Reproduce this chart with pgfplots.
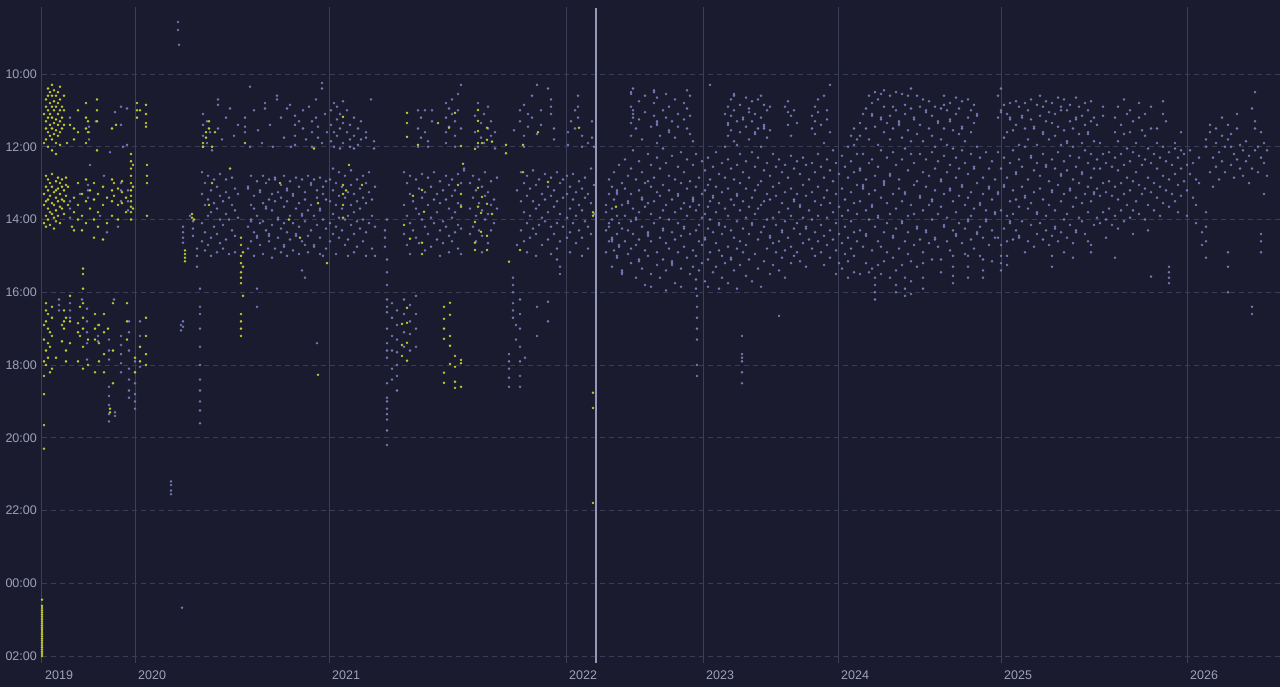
\documentclass[border=0pt]{standalone}
\usepackage{pgfplots}
\pgfplotsset{compat=1.18}
\usepackage{fontspec}
\setmainfont{Liberation Sans}
\definecolor{bg}{RGB}{26,27,46}
\definecolor{ylw}{RGB}{197,207,46}
\definecolor{prp}{RGB}{121,121,186}
\definecolor{gridc}{RGB}{58,59,85}
\definecolor{yearc}{RGB}{61,62,90}
\definecolor{brightc}{RGB}{150,150,185}
\definecolor{labc}{RGB}{159,162,184}
\begin{document}
\begin{tikzpicture}
\path[use as bounding box, fill=bg] (0,0) rectangle (1280pt,687pt);
\begin{axis}[
  at={(42pt,24pt)}, anchor=south west, scale only axis,
  width=1238pt, height=656pt,
  xmin=42, xmax=1280, ymin=8.16, ymax=26.19, y dir=reverse,
  clip=false,
  axis line style={draw=none},
  major tick length=0pt,
  xtick={42,135,329,566,703,838,1001,1187},
  xticklabels={2019,2020,2021,2022,2023,2024,2025,2026},
  ytick={10,12,14,16,18,20,22,24,26},
  yticklabels={10:00,12:00,14:00,16:00,18:00,20:00,22:00,00:00,02:00},
  xmajorgrids, ymajorgrids,
  x grid style={yearc, line width=1pt},
  y grid style={gridc, line width=0.8pt, dash pattern=on 5pt off 4pt},
  xticklabel style={anchor=north west, inner sep=0pt, xshift=3pt, yshift=-8pt, text=labc, font=\fontsize{12.5}{14}\selectfont},
  yticklabel style={anchor=east, inner sep=0pt, xshift=-5pt, text=labc, font=\fontsize{12.5}{14}\selectfont},
]
\addplot[brightc, line width=1.4pt, forget plot] coordinates {(596,8.18) (596,26.19)};
% purple series
\addplot[prp, only marks, mark=*, mark size=1.15pt, mark options={draw=prp, fill=prp, line width=0.2pt}] coordinates {
(70,11.2)(89,11.45)(89,11.6)(89,11.8)(96,11.3)(115,11.05)(121,10.9)(127,10.95)(121,11.4)(110,12.15)(123,12.0)(127,11.95)
(70,13.5)(70,13.7)(70,13.95)(80,13.3)(88,13.05)(88,13.2)(88,13.4)(90,12.5)(107,14.35)(121,13.0)(121,13.2)(121,13.5)(128,13.2)(128,13.5)(128,13.75)(118,14.2)(100,13.9)(104,12.8)
(59,16.2)(59,16.35)(59,16.5)(70,16.3)(70,16.5)(70,16.7)(82,16.2)(87,16.45)(87,16.8)(87,17.1)(87,17.4)(87,17.85)(98,16.9)(98,17.2)(98,17.35)(109,17.3)(109,17.6)(109,17.85)(121,17.2)(121,17.45)(121,17.7)(121,17.95)(121,18.2)(129,16.8)(129,17.1)(129,17.6)(129,18.1)(129,18.4)(129,18.7)(129,18.9)(135,17.9)(135,18.2)(135,18.5)(135,18.8)(135,19.0)(135,19.2)(140,16.8)(140,17.2)(140,17.5)(140,18.05)(109,18.6)(109,18.85)(109,19.1)(109,19.35)(109,19.55)(115,19.3)(115,19.4)(114,16.2)
(178,8.57)(178,8.79)(179,9.2)(171,21.2)(171,21.3)(171,21.45)(171,21.55)(182,24.67)(181,16.9)(181,17.05)
(183,14.2)(183,14.35)(183,14.5)(183,14.64)(183,16.8)(183,16.95)(190,13.9)(193,14.05)(193,14.25)(193,14.45)(197,14.8)(197,15.0)(197,15.3)
(200,15.9)(200,16.4)(200,16.6)(200,17.0)(200,17.5)(200,18.0)(200,18.4)(200,18.7)(200,19.0)(200,19.25)(200,19.6)
(203,11.1)(203,11.4)(203,11.7)(203,12.0)(207,11.3)(207,11.9)(210,11.6)(212,12.1)(218,10.7)(218,10.85)(218,11.5)(222,11.8)(226,11.2)(230,10.95)(234,11.7)(238,11.4)(245,11.2)(245,11.45)(245,11.6)(250,10.35)(250,12.0)(254,11.0)(258,11.55)(262,11.9)(265,10.8)(265,10.95)(270,11.4)(273,12.0)(277,10.6)(277,10.7)(281,11.2)(284,11.75)(287,10.95)(290,10.85)(291,12.0)(295,11.15)(295,11.4)(295,11.7)(295,11.95)(299,11.3)(303,11.0)(303,11.5)(306,11.8)(309,10.9)(312,11.3)(312,11.6)(312,12.0)(316,10.7)(316,11.2)(318,11.45)(318,11.75)(322,10.25)(322,10.4)(322,11.9)(325,11.1)(327,11.6)
(202,12.7)(202,13.3)(202,14.1)(202,14.6)(205,13.0)(205,13.6)(205,14.35)(205,14.85)(208,12.8)(208,13.45)(208,13.9)(208,14.7)(211,13.2)(211,13.8)(211,14.5)(211,15.0)(214,12.9)(214,13.55)(214,14.2)(217,13.1)(217,13.7)(217,14.4)(217,14.9)(220,12.75)(220,13.35)(220,14.0)(220,14.65)(223,13.5)(223,14.15)(223,14.8)(226,12.9)(226,13.25)(226,13.85)(226,14.55)(229,13.4)(229,14.0)(229,14.95)(232,12.85)(232,13.6)(232,14.3)(235,13.15)(235,13.75)(235,14.45)(235,14.9)(238,13.3)(238,13.95)
(248,13.1)(248,13.15)(248,14.2)(248,14.8)(251,12.8)(251,13.6)(251,14.0)(251,14.05)(251,14.6)(254,13.35)(254,13.7)(254,14.35)(254,15.0)(257,12.95)(257,13.9)(257,14.45)(257,14.5)(257,15.9)(257,16.4)(260,13.2)(260,13.25)(260,14.1)(260,14.7)(263,12.8)(263,13.55)(263,14.05)(263,14.95)(266,13.0)(266,13.65)(266,13.7)(266,14.3)(269,12.9)(269,13.45)(269,14.4)(269,14.45)(269,14.6)(272,13.3)(272,13.75)(272,14.15)(272,15.05)(275,12.85)(275,12.9)(275,13.5)(275,14.8)(278,13.25)(278,13.95)(278,14.0)(278,14.5)(281,13.05)(281,13.4)(281,14.25)(281,14.9)(284,12.8)(284,13.65)(284,14.1)(284,14.7)(284,14.75)(287,13.15)(287,13.2)(287,13.5)(287,14.35)(287,15.0)(290,12.95)(290,13.9)(290,14.55)(293,13.3)(293,13.35)(293,14.1)(293,14.85)(296,12.85)(296,13.7)(296,14.4)(296,14.45)(299,13.1)(299,13.55)(299,14.2)(299,14.95)(302,12.9)(302,13.85)(302,13.9)(302,14.6)(302,15.4)(305,13.25)(305,13.45)(305,14.05)(305,14.7)(305,15.6)(308,12.8)(308,13.75)(308,14.45)(308,14.9)(311,13.0)(311,13.05)(311,13.6)(311,14.3)(314,12.9)(314,13.9)(314,14.7)(314,14.75)(317,13.2)(317,13.4)(317,14.15)(317,17.4)(320,12.85)(320,13.7)(320,13.75)(320,14.5)(320,14.95)(323,13.1)(323,13.3)(323,14.0)(323,15.0)(326,12.95)(326,13.45)(326,14.25)(326,14.8)
(331,11.0)(331,11.4)(331,11.85)(334,10.8)(334,11.6)(334,12.0)(337,10.9)(337,11.25)(337,11.7)(340,11.1)(340,11.5)(340,12.05)(343,10.75)(343,11.35)(343,11.9)(347,11.0)(347,11.6)(350,11.4)(350,11.8)(350,12.0)(354,11.2)(354,11.7)(354,12.05)(358,11.5)(358,11.95)(361,11.3)(361,11.8)(366,11.6)(366,11.75)(371,10.7)(374,11.85)(374,12.05)(418,11.0)(418,11.5)(418,12.0)(421,11.2)(421,11.75)(425,11.0)(425,11.6)(428,11.85)(428,12.0)(432,11.0)(432,11.3)(446,10.8)(446,11.2)(446,11.6)(446,11.9)(449,10.95)(449,11.45)(452,10.7)(452,11.1)(455,11.3)(455,11.7)(455,12.0)(458,10.55)(458,11.0)(461,10.3)(461,11.5)(475,11.15)(475,11.6)(478,10.8)(478,12.0)(481,11.35)(481,11.75)(484,11.1)(484,11.9)(488,10.9)(488,11.5)(491,11.3)(491,11.7)(495,11.6)(495,12.05)(514,11.55)(520,11.0)(520,11.3)(524,10.85)(524,11.7)(524,12.0)(528,11.1)(528,11.45)(532,10.6)(532,11.2)(537,10.3)(537,11.65)(541,11.0)(541,11.4)(548,10.4)(551,10.7)(551,10.9)(551,11.1)(554,11.5)(554,11.8)(568,11.6)(568,11.95)(571,11.3)(575,11.0)(575,11.5)(578,10.6)(578,10.9)(578,11.2)(582,11.7)(582,12.0)(588,11.9)(592,11.3)(592,11.75)(594,12.0)
(330,12.9)(330,13.5)(330,14.1)(330,14.6)(333,12.6)(333,13.2)(333,13.85)(333,14.4)(336,13.0)(336,13.6)(336,14.2)(336,14.95)(339,12.7)(339,13.35)(339,13.95)(339,14.5)(342,13.1)(342,13.7)(342,14.3)(345,12.8)(345,13.4)(345,14.0)(345,14.7)(348,13.25)(348,13.9)(348,14.55)(348,15.0)(351,12.65)(351,13.05)(351,13.6)(351,14.15)(354,13.3)(354,13.8)(354,14.4)(354,14.9)(357,12.9)(357,13.5)(357,14.05)(357,14.75)(360,13.15)(360,13.7)(360,14.25)(363,12.8)(363,13.4)(363,14.0)(363,14.6)(366,13.0)(366,13.55)(366,14.35)(366,15.0)(369,12.7)(369,13.25)(369,14.1)(372,13.45)(372,13.9)(372,14.8)(375,13.1)(375,14.2)(375,15.0)(385,14.3)(385,14.5)(385,14.75)
(387,14.0)(387,15.1)(387,15.45)(387,15.8)(387,16.2)(387,16.4)(387,16.55)(387,17.0)(387,17.4)(387,17.6)(387,17.8)(387,18.5)(387,18.9)(387,19.0)(387,19.2)(387,19.35)(387,19.5)(387,19.8)(387,20.2)
(392,16.3)(392,16.7)(392,17.2)(392,17.6)(392,18.1)(392,18.4)(397,16.5)(397,16.9)(397,17.3)(397,17.65)(397,18.0)(397,18.3)(397,18.7)(404,16.2)(404,16.6)(404,17.1)(404,17.5)(410,16.35)(410,16.8)(410,17.15)(410,17.6)(416,16.1)(416,16.6)(416,17.0)(416,17.5)
(404,12.7)(404,13.6)(404,14.4)(407,13.0)(407,13.9)(407,14.7)(410,12.8)(410,13.3)(410,14.1)(410,14.95)(413,13.5)(413,14.3)(416,12.9)(416,13.7)(416,14.5)(419,13.15)(419,13.85)(419,14.65)(422,12.75)(422,13.4)(422,14.0)(425,13.25)(425,14.2)(425,14.85)(428,12.85)(428,13.6)(428,14.4)(431,13.1)(431,13.95)(431,14.75)(434,12.7)(434,13.45)(434,14.1)(437,13.3)(437,13.8)(437,14.55)(440,12.95)(440,13.55)(440,14.3)(440,15.0)(443,13.2)(443,14.05)(443,14.65)(446,12.8)(446,13.45)(446,14.2)(449,13.05)(449,13.7)(449,14.45)(449,14.9)(452,12.9)(452,13.35)(452,13.95)(452,14.6)(455,13.2)(455,13.8)(455,14.35)(458,12.75)(458,13.55)(458,14.15)(458,14.8)(461,13.0)(461,13.6)(461,14.25)(461,14.95)(464,12.6)(464,12.65)
(470,13.0)(470,13.7)(470,14.4)(473,12.8)(473,13.4)(473,14.2)(476,13.2)(476,13.9)(476,14.6)(479,12.9)(479,13.55)(479,14.3)(482,13.1)(482,13.75)(482,14.45)(482,14.9)(485,12.7)(485,13.35)(485,14.0)(488,13.25)(488,13.85)(488,14.65)(491,12.95)(491,13.6)(491,14.3)(494,13.45)(494,14.1)(497,12.85)(497,13.7)
(509,17.7)(509,17.9)(509,18.1)(509,18.35)(509,18.6)(513,15.6)(513,15.8)(513,16.0)(513,16.3)(513,16.5)(513,16.7)(516,16.9)(516,17.3)(520,16.2)(520,16.6)(520,17.0)(520,17.5)(520,17.9)(520,18.3)(520,18.6)(525,17.8)(537,16.4)(537,17.2)(548,16.26)(548,16.8)
(517,13.2)(517,14.7)(521,12.7)(521,13.5)(521,14.3)(524,13.0)(524,13.8)(524,14.6)(527,12.8)(527,13.35)(527,14.1)(527,14.9)(530,13.15)(530,13.9)(530,14.5)(533,12.65)(533,13.5)(533,14.25)(536,13.05)(536,13.7)(536,14.4)(536,15.0)(539,12.9)(539,13.6)(539,14.15)(542,13.3)(542,13.95)(542,14.7)(545,12.75)(545,13.45)(545,14.05)(548,13.1)(548,13.8)(548,14.55)(551,12.85)(551,13.35)(551,14.2)(551,14.95)(554,13.2)(554,13.65)(554,14.4)(557,12.7)(557,13.5)(557,14.1)(557,14.8)(557,15.1)(560,13.0)(560,13.85)(560,14.6)(560,15.3)(560,15.5)(563,12.9)(563,13.4)(563,14.2)(567,12.8)(567,13.3)(567,13.95)(567,14.5)(570,13.1)(570,13.7)(570,14.35)(570,14.9)(573,12.75)(573,13.45)(573,14.1)(576,13.25)(576,13.9)(576,14.65)(579,12.95)(579,13.6)(579,14.3)(582,13.15)(582,13.75)(582,14.5)(582,15.0)(585,12.85)(585,13.4)(585,14.05)(588,13.3)(588,14.2)(588,14.8)(591,12.6)(591,13.55)(591,14.4)(594,13.05)(594,13.85)
(697,16.1)(697,16.4)(697,16.7)(697,17.0)(697,17.3)(697,18.0)(697,18.3)
(742,17.2)(742,17.7)(742,17.8)(742,17.9)(742,18.2)(742,18.5)
(606,13.6)(606,13.8)(606,14.3)(606,14.9)(609,12.9)(609,13.3)(609,14.1)(609,14.2)(609,14.6)(612,13.1)(612,13.7)(612,14.0)(612,14.5)(612,14.55)(612,14.6)(612,15.3)(614,12.7)(614,13.45)(614,14.85)(617,13.2)(617,13.25)(617,13.3)(617,13.9)(617,14.4)(617,15.0)(617,15.05)(619,12.5)(619,14.1)(619,14.7)(619,14.75)(622,13.0)(622,13.6)(622,14.25)(622,15.4)(622,15.45)(622,15.5)(625,12.35)(625,13.15)(625,13.9)(625,14.6)(628,12.8)(628,13.5)(628,13.55)(628,14.3)(628,14.95)
(631,10.5)(631,10.55)(631,10.9)(631,11.35)(631,11.7)(631,12.6)(631,13.3)(631,14.05)(631,14.8)(631,15.2)(633,10.4)(633,11.0)(633,11.1)(633,11.2)(633,12.1)(633,13.7)(633,14.4)(636,11.5)(636,12.9)(636,13.95)(636,14.0)(636,14.7)(636,15.6)(639,10.75)(639,11.25)(639,12.4)(639,13.2)(639,13.8)(639,14.55)(639,15.1)(639,15.15)(642,11.8)(642,12.7)(642,13.4)(642,13.45)(642,14.2)(642,15.35)(645,10.6)(645,11.05)(645,13.0)(645,13.65)(645,14.85)(645,15.8)(648,12.2)(648,12.95)(648,13.55)(648,14.35)(648,14.4)(648,14.45)(648,15.0)(651,11.45)(651,12.5)(651,13.1)(651,13.85)(651,14.6)(651,15.5)(651,15.85)(654,10.45)(654,10.5)(654,10.8)(654,11.15)(654,12.85)(654,13.5)(654,14.1)(657,10.65)(657,11.3)(657,11.35)(657,11.4)(657,11.9)(657,12.3)(657,13.25)(657,14.9)(657,15.25)(660,11.7)(660,12.6)(660,13.35)(660,13.95)(660,14.5)(660,15.6)(663,11.0)(663,12.05)(663,13.05)(663,13.75)(663,14.25)(663,14.3)(663,15.1)(666,10.55)(666,11.2)(666,12.45)(666,13.6)(666,14.65)(666,15.4)(666,15.95)(669,10.9)(669,11.55)(669,11.6)(669,12.8)(669,13.2)(669,14.0)(669,14.8)(672,11.3)(672,12.25)(672,13.45)(672,14.35)(672,15.15)(672,15.2)(672,15.25)(675,10.7)(675,11.75)(675,12.9)(675,13.8)(675,14.55)(675,15.75)(678,11.1)(678,11.45)(678,12.55)(678,13.3)(678,13.35)(678,14.1)(678,14.9)(681,12.15)(681,13.0)(681,13.7)(681,14.45)(681,15.35)(681,15.85)(684,10.8)(684,11.25)(684,12.7)(684,13.55)(684,14.2)(684,14.25)(684,14.75)(687,10.45)(687,10.95)(687,11.5)(687,12.35)(687,13.15)(687,13.9)(687,15.05)(690,10.6)(690,11.15)(690,11.65)(690,12.95)(690,13.65)(690,14.4)(690,15.5)(693,11.85)(693,12.5)(693,13.4)(693,13.45)(693,13.5)(693,14.85)(693,15.3)(696,12.2)(696,13.1)(696,13.75)(696,14.3)(696,15.0)(696,15.65)(696,15.9)(699,12.85)(699,13.6)(699,14.15)(699,14.6)(699,15.4)
(702,12.4)(702,13.3)(702,13.95)(702,14.7)(702,15.2)(705,12.65)(705,13.2)(705,13.85)(705,14.5)(705,14.55)(705,15.7)(708,12.3)(708,13.05)(708,13.65)(708,14.25)(708,15.1)(708,15.85)(710,10.3)(710,12.9)(710,13.5)(710,14.0)(710,14.9)(713,12.55)(713,13.35)(713,13.4)(713,14.35)(713,15.45)(716,12.15)(716,13.1)(716,13.8)(716,14.65)(716,15.3)(719,12.75)(719,13.55)(719,14.1)(719,14.15)(719,14.85)(719,15.9)(722,12.45)(722,13.25)(722,14.4)(722,15.0)(722,15.6)(725,11.1)(725,12.0)(725,12.85)(725,13.7)(725,14.2)(725,15.2)(728,10.9)(728,11.35)(728,11.4)(728,11.7)(728,12.35)(728,13.15)(728,13.9)(728,14.75)(728,15.75)(731,10.7)(731,11.15)(731,11.55)(731,12.6)(731,13.45)(731,14.3)(731,15.05)(731,15.1)(734,10.55)(734,10.6)(734,11.0)(734,11.85)(734,12.9)(734,13.6)(734,14.5)(734,15.4)(737,11.3)(737,11.95)(737,12.5)(737,13.3)(737,13.35)(737,14.05)(737,14.8)(737,15.9)(740,10.85)(740,11.6)(740,12.2)(740,13.0)(740,13.75)(740,14.6)(740,15.25)(743,11.2)(743,11.25)(743,12.7)(743,13.5)(743,14.25)(743,14.9)(746,10.65)(746,11.45)(746,12.4)(746,13.15)(746,13.95)(746,14.7)(746,15.55)(749,10.95)(749,11.05)(749,11.8)(749,12.85)(749,13.65)(749,14.4)(749,15.1)(752,10.75)(752,11.3)(752,12.15)(752,13.4)(752,14.1)(752,14.15)(752,15.7)(755,11.1)(755,11.6)(755,11.65)(755,12.55)(755,13.2)(755,13.85)(755,14.95)(758,10.7)(758,11.5)(758,12.3)(758,13.05)(758,13.7)(758,14.55)(758,15.35)(761,10.6)(761,11.2)(761,12.0)(761,12.95)(761,13.6)(761,14.35)(761,15.85)(764,10.85)(764,11.4)(764,11.45)(764,11.5)(764,12.65)(764,13.5)(764,14.2)(764,15.15)(767,11.0)(767,11.75)(767,12.45)(767,13.3)(767,14.0)(767,14.8)(770,10.9)(770,11.55)(770,12.8)(770,13.45)(770,14.45)(770,14.5)(770,15.5)(773,12.2)(773,13.1)(773,13.95)(773,14.65)(773,15.25)(776,12.55)(776,13.35)(776,14.15)(776,14.9)(779,12.35)(779,13.0)(779,13.8)(779,14.6)(779,15.4)(779,16.65)(782,12.7)(782,13.55)(782,14.3)(782,14.35)(782,15.05)(785,10.9)(785,12.5)(785,13.25)(785,14.05)(785,14.85)(785,15.6)(788,10.75)(788,11.05)(788,11.4)(788,12.85)(788,13.7)(788,14.5)(791,11.15)(791,11.7)(791,12.25)(791,13.15)(791,13.9)(791,14.75)(791,15.2)(794,11.0)(794,12.6)(794,13.45)(794,13.5)(794,14.25)(794,15.0)(797,11.35)(797,12.4)(797,13.3)(797,14.1)(797,14.9)(800,12.75)(800,13.6)(800,13.65)(800,14.4)(800,15.15)(803,12.3)(803,13.05)(803,13.95)(803,14.65)(806,12.5)(806,13.35)(806,14.2)(806,14.25)(806,15.3)(809,12.9)(809,13.75)(809,14.55)(812,11.15)(812,11.5)(812,12.45)(812,13.25)(812,14.0)(812,14.8)(815,10.9)(815,11.3)(815,11.65)(815,12.7)(815,13.5)(815,14.35)(815,15.0)(818,10.7)(818,11.05)(818,12.2)(818,13.1)(818,13.9)(818,14.6)(821,11.4)(821,12.55)(821,13.6)(821,14.15)(821,14.9)(824,10.6)(824,11.9)(824,12.85)(824,13.4)(824,14.45)(824,15.25)(827,11.0)(827,11.25)(827,12.35)(827,13.2)(827,13.95)(827,14.7)(830,10.3)(830,11.6)(830,12.65)(830,13.55)(830,14.3)(830,15.05)(833,12.1)(833,12.95)(833,13.8)(833,14.55)(836,12.45)(836,13.3)(836,14.1)(836,14.85)(836,15.5)
(839,12.75)(839,13.65)(839,14.4)(839,15.2)(842,12.25)(842,13.15)(842,13.9)(842,14.65)(842,15.35)(845,12.55)(845,13.45)(845,14.2)(845,14.95)(848,12.0)(848,12.85)(848,13.75)(848,14.5)(848,15.15)(848,15.6)(851,11.7)(851,12.4)(851,13.25)(851,14.05)(851,14.8)(854,11.5)(854,11.95)(854,12.7)(854,13.55)(854,14.35)(854,15.0)(854,15.45)(857,11.8)(857,12.2)(857,13.05)(857,13.85)(857,14.6)
(860,11.35)(860,11.7)(860,12.6)(860,12.65)(860,13.5)(860,14.3)(860,15.5)(863,11.1)(863,12.2)(863,13.05)(863,13.1)(863,13.15)(863,14.75)(866,10.95)(866,11.5)(866,12.9)(866,13.75)(866,14.4)(866,14.45)(866,15.2)(869,10.6)(869,11.8)(869,12.45)(869,13.3)(869,14.0)(869,15.45)(872,10.8)(872,11.1)(872,11.15)(872,12.35)(872,13.6)(872,13.65)(872,14.85)(872,15.35)(875,10.5)(875,11.45)(875,12.8)(875,13.2)(875,14.2)(875,15.6)(875,15.8)(875,16.0)(875,16.2)(878,10.7)(878,11.95)(878,12.55)(878,13.9)(878,13.95)(878,14.6)(878,15.25)(881,10.55)(881,11.2)(881,11.25)(881,12.1)(881,13.4)(881,14.75)(881,15.5)(884,10.45)(884,10.9)(884,11.6)(884,12.95)(884,13.0)(884,13.05)(884,14.35)(884,15.15)(887,11.35)(887,12.3)(887,13.55)(887,14.1)(887,14.9)(890,10.6)(890,11.15)(890,11.8)(890,12.75)(890,12.8)(890,13.85)(890,15.6)(893,10.9)(893,11.5)(893,12.15)(893,13.3)(893,14.45)(893,14.5)(893,15.05)(896,10.5)(896,11.0)(896,12.5)(896,13.7)(896,14.25)(896,15.4)(896,15.8)(896,16.0)(899,11.3)(899,11.35)(899,11.4)(899,12.9)(899,13.15)(899,14.8)(902,10.55)(902,11.75)(902,12.35)(902,13.5)(902,14.05)(902,14.1)(902,15.25)(905,10.85)(905,11.1)(905,12.05)(905,13.25)(905,13.3)(905,14.6)(905,15.6)(905,15.9)(905,16.1)(908,10.6)(908,11.55)(908,12.65)(908,13.9)(908,14.35)(908,14.95)(911,10.4)(911,10.95)(911,11.85)(911,12.2)(911,13.6)(911,15.15)(911,15.7)(911,16.05)(914,11.2)(914,11.25)(914,12.45)(914,13.05)(914,13.85)(914,14.7)(917,10.6)(917,11.65)(917,12.95)(917,14.2)(917,14.25)(917,15.3)(920,10.9)(920,11.4)(920,12.2)(920,13.35)(920,13.4)(920,14.55)
(923,10.7)(923,11.85)(923,12.7)(923,13.75)(923,14.9)(923,15.2)(923,15.6)(923,15.9)(926,11.0)(926,11.05)(926,12.35)(926,13.1)(926,14.3)(926,14.35)(929,10.75)(929,11.5)(929,12.8)(929,13.6)(929,14.65)(932,11.15)(932,11.7)(932,12.15)(932,13.45)(932,13.5)(932,14.0)(932,15.1)(935,10.9)(935,12.0)(935,12.6)(935,13.2)(935,14.5)(935,14.55)(938,11.3)(938,11.35)(938,12.4)(938,13.85)(938,14.75)(941,10.95)(941,11.8)(941,12.9)(941,12.95)(941,13.65)(941,15.1)(941,15.45)(944,10.6)(944,10.85)(944,11.5)(944,12.25)(944,13.3)(944,14.15)(944,14.2)(947,11.0)(947,11.95)(947,12.7)(947,13.95)(947,14.6)(950,10.8)(950,11.25)(950,11.3)(950,12.5)(950,13.15)(950,13.2)(950,14.85)(953,11.55)(953,12.05)(953,13.5)(953,14.3)(953,15.0)(953,15.3)(953,15.55)(953,15.75)(956,10.65)(956,11.1)(956,12.3)(956,12.85)(956,13.8)(956,14.4)(956,14.45)(959,10.95)(959,11.65)(959,12.6)(959,13.35)(959,14.1)(962,10.75)(962,11.45)(962,11.5)(962,12.1)(962,13.05)(962,13.1)(962,14.65)(965,11.85)(965,12.45)(965,13.6)(965,14.25)(965,14.95)(968,10.7)(968,11.2)(968,12.75)(968,13.4)(968,14.0)(968,14.05)(968,15.0)(968,15.3)(968,15.6)(971,11.0)(971,11.6)(971,12.2)(971,13.25)(971,13.9)(971,14.55)(974,10.85)(974,11.35)(974,12.55)(974,12.6)(974,13.7)(974,14.8)(977,11.1)(977,11.15)(977,12.0)(977,13.0)(977,14.35)(977,14.4)(980,12.3)(980,13.55)(980,13.6)(980,14.2)(980,15.0)(983,12.85)(983,13.3)(983,14.5)(983,15.1)(983,15.4)(983,15.6)(986,12.15)(986,13.75)(986,14.0)(986,14.05)(989,12.6)(989,13.1)(989,13.15)(989,14.7)(992,12.4)(992,13.45)(992,14.3)(992,15.15)(995,12.9)(995,13.8)(995,13.85)(995,14.5)
(998,10.6)(998,11.2)(998,12.15)(998,13.25)(998,13.3)(998,14.5)(1001,10.4)(1001,11.0)(1001,11.05)(1001,12.6)(1001,13.75)(1001,14.7)(1001,15.0)(1001,15.2)(1001,15.4)(1004,10.85)(1004,11.75)(1004,12.3)(1004,13.05)(1004,13.1)(1004,14.25)(1007,11.1)(1007,11.6)(1007,12.85)(1007,13.9)(1007,14.6)(1007,15.0)(1007,15.25)(1010,10.8)(1010,11.2)(1010,11.25)(1010,12.45)(1010,13.5)(1010,14.05)(1010,14.1)(1013,11.55)(1013,12.1)(1013,13.2)(1013,13.85)(1013,14.55)(1016,10.75)(1016,11.4)(1016,12.7)(1016,12.75)(1016,13.45)(1016,14.3)(1019,10.9)(1019,11.95)(1019,12.35)(1019,13.65)(1019,14.45)(1019,14.5)(1022,11.15)(1022,11.2)(1022,12.55)(1022,13.1)(1022,14.05)(1025,10.8)(1025,11.5)(1025,12.0)(1025,13.35)(1025,13.4)(1025,14.9)(1028,11.0)(1028,11.8)(1028,12.9)(1028,13.7)(1028,14.6)(1031,10.7)(1031,11.25)(1031,12.25)(1031,12.3)(1031,13.55)(1031,14.15)(1034,11.45)(1034,11.5)(1034,12.65)(1034,13.25)(1034,14.75)(1037,10.85)(1037,11.95)(1037,12.45)(1037,13.8)(1037,13.85)(1037,14.4)(1040,10.6)(1040,11.15)(1040,12.8)(1040,13.15)(1040,14.1)(1043,10.9)(1043,11.6)(1043,11.65)(1043,12.2)(1043,13.45)(1043,14.55)(1046,10.75)(1046,11.3)(1046,12.5)(1046,12.55)(1046,13.9)(1046,14.3)(1049,11.05)(1049,11.8)(1049,12.95)(1049,13.6)(1049,14.7)(1052,10.8)(1052,11.35)(1052,12.35)(1052,13.2)(1052,13.25)(1052,14.45)(1052,15.0)(1052,15.3)(1055,11.1)(1055,11.7)(1055,12.6)(1055,13.75)(1055,14.2)(1055,14.25)(1058,10.65)(1058,11.45)(1058,12.15)(1058,13.05)(1058,14.6)(1061,10.9)(1061,11.0)(1061,11.95)(1061,12.75)(1061,12.8)(1061,13.5)(1061,14.35)(1064,10.7)(1064,11.55)(1064,12.4)(1064,13.3)(1064,14.0)(1064,14.9)(1067,11.0)(1067,11.85)(1067,11.9)(1067,12.65)(1067,13.85)(1067,14.5)(1070,10.85)(1070,11.3)(1070,12.25)(1070,13.15)(1070,13.2)(1070,14.15)(1073,11.5)(1073,12.0)(1073,12.9)(1073,13.65)(1073,14.65)(1073,15.05)(1076,10.65)(1076,11.2)(1076,11.25)(1076,12.55)(1076,13.4)(1076,14.3)(1076,14.35)(1079,10.9)(1079,11.65)(1079,12.3)(1079,13.0)(1079,13.95)(1082,11.15)(1082,11.9)(1082,12.7)(1082,12.75)(1082,13.55)(1082,14.05)(1085,10.8)(1085,11.4)(1085,12.1)(1085,13.3)(1085,14.4)(1088,11.0)(1088,11.6)(1088,11.65)(1088,12.45)(1088,13.1)(1088,13.8)(1088,14.6)(1091,10.75)(1091,11.3)(1091,12.2)(1091,12.85)(1091,13.5)(1091,14.7)(1091,14.9)(1094,11.2)(1094,11.85)(1094,12.6)(1094,13.25)(1094,13.3)(1094,14.15)
(1097,11.4)(1097,12.35)(1097,13.15)(1097,13.95)(1100,11.9)(1100,12.6)(1100,13.35)(1100,14.1)(1103,10.9)(1103,11.15)(1103,12.2)(1103,13.0)(1103,13.8)(1106,12.45)(1106,13.25)(1106,14.0)(1106,14.5)(1109,12.15)(1109,12.95)(1109,13.7)(1112,12.55)(1112,13.35)(1112,14.15)(1115,11.2)(1115,11.6)(1115,12.3)(1115,13.1)(1115,13.9)(1115,15.05)(1118,10.9)(1118,11.85)(1118,12.65)(1118,13.45)(1118,14.25)(1121,11.4)(1121,12.2)(1121,13.0)(1121,13.75)(1124,10.7)(1124,11.65)(1124,12.5)(1124,13.3)(1124,14.05)(1127,11.1)(1127,12.05)(1127,12.85)(1127,13.6)(1130,11.0)(1130,11.6)(1130,12.4)(1130,13.2)(1130,13.95)(1133,11.3)(1133,12.15)(1133,12.95)(1133,13.75)(1133,14.4)(1136,11.9)(1136,12.7)(1136,13.5)(1139,10.8)(1139,11.2)(1139,12.25)(1139,13.05)(1139,13.85)(1142,11.55)(1142,12.5)(1142,13.3)(1145,11.1)(1145,11.7)(1145,12.35)(1145,13.15)(1145,14.0)(1148,12.05)(1148,12.85)(1148,13.6)(1148,14.3)(1151,10.9)(1151,11.5)(1151,12.45)(1151,13.25)(1151,15.57)(1154,12.2)(1154,13.0)(1154,13.75)(1157,11.5)(1157,11.9)(1157,12.6)(1157,13.4)(1160,12.3)(1160,13.1)(1160,13.9)(1163,10.75)(1163,11.1)(1163,12.0)(1163,12.8)(1163,13.55)(1166,11.3)(1166,12.4)(1166,13.2)(1169,12.15)(1169,12.9)(1169,13.65)(1169,15.3)(1169,15.45)(1169,15.6)(1169,15.75)(1172,12.5)(1172,13.3)(1175,11.9)(1175,12.05)(1175,12.75)(1175,13.5)(1178,12.3)(1178,13.05)(1178,13.8)(1181,11.6)(1181,12.1)(1181,12.6)(1181,13.35)(1184,12.2)(1184,12.95)
(1187,12.5)(1187,13.2)(1187,13.9)(1190,12.1)(1190,12.75)(1193,12.45)(1193,13.4)(1196,12.9)(1196,13.6)(1196,14.1)(1199,12.3)(1199,13.0)(1202,14.35)(1202,14.7)(1206,11.8)(1206,12.0)(1206,13.8)(1206,14.2)(1206,14.6)(1206,15.05)(1210,11.4)(1210,11.6)(1210,12.7)(1213,12.3)(1213,13.1)(1216,11.5)(1216,11.9)(1216,12.55)(1219,12.15)(1219,12.9)(1222,11.2)(1222,11.7)(1222,12.4)(1225,12.0)(1225,12.7)(1228,11.4)(1228,11.8)(1228,14.9)(1228,15.3)(1228,16.0)(1231,11.65)(1231,12.0)(1231,12.5)(1234,12.2)(1234,12.85)(1237,11.1)(1237,11.5)(1237,12.35)(1240,11.95)(1240,12.6)(1243,12.1)(1243,12.8)(1246,11.85)(1246,12.4)(1249,12.25)(1249,13.0)(1252,10.95)(1252,12.6)(1252,16.4)(1252,16.6)(1255,10.5)(1255,11.3)(1255,11.5)(1255,12.1)(1258,12.0)(1258,12.7)(1261,11.6)(1261,12.3)(1261,14.4)(1261,14.6)(1261,14.9)(1264,11.9)(1264,12.45)(1264,13.3)(1267,12.1)(1267,12.8)
};
% yellow series
\addplot[ylw, only marks, mark=*, mark size=1.15pt, mark options={draw=ylw, fill=ylw, line width=0.2pt}] coordinates {
(42,24.45)(42,24.62)(42,24.68)(42,24.74)(42,24.8)(42,24.86)(42,24.92)(42,24.98)(42,25.04)(42,25.1)(42,25.16)(42,25.22)(42,25.28)(42,25.34)(42,25.4)(42,25.46)(42,25.52)(42,25.58)(42,25.64)(42,25.7)(42,25.76)(42,25.82)(42,25.88)(42,25.94)(42,26.0)
(44,19.65)(44,20.3)(44,18.8)
(44,11.1)(44,11.9)(46,10.7)(46,10.9)(46,11.3)(46,11.5)(46,11.8)(48,10.4)(48,10.6)(48,11.0)(48,11.2)(48,11.6)(48,12.0)(50,10.5)(50,10.8)(50,11.1)(50,11.4)(50,11.7)(52,10.3)(52,10.6)(52,10.9)(52,11.2)(52,11.5)(52,11.8)(52,12.1)(54,10.45)(54,10.75)(54,11.0)(54,11.35)(54,11.65)(56,10.6)(56,10.9)(56,11.25)(56,11.55)(56,11.9)(56,12.2)(58,10.5)(58,10.8)(58,11.1)(58,11.4)(58,11.7)(60,10.35)(60,10.7)(60,11.0)(60,11.3)(60,11.6)(60,11.95)(62,10.9)(62,11.2)(62,11.5)(64,10.6)(64,11.0)(64,11.4)(67,11.9)(70,11.4)(74,11.5)(74,11.8)(78,11.0)(78,11.6)(86,10.8)(86,11.2)(86,11.5)(86,11.9)(88,11.3)(88,11.6)(97,10.7)(97,11.0)(97,11.3)(97,12.1)(112,11.5)(116,11.4)(137,10.8)(137,11.0)(137,11.2)(140,11.0)(146,10.85)(146,11.1)(146,11.35)(146,11.45)
(44,13.3)(44,13.6)(44,14.1)(46,12.8)(46,13.1)(46,13.5)(46,13.9)(46,14.2)(48,12.9)(48,13.2)(48,13.45)(48,13.7)(48,14.0)(50,13.0)(50,13.35)(50,13.8)(50,14.15)(52,12.75)(52,13.1)(52,13.55)(52,13.85)(54,13.25)(54,13.6)(54,13.95)(54,14.25)(56,12.95)(56,13.2)(56,13.4)(56,13.75)(56,14.05)(58,12.85)(58,13.15)(58,13.5)(58,13.9)(60,13.0)(60,13.3)(60,13.65)(60,14.1)(62,12.9)(62,13.1)(62,13.45)(62,13.7)(64,13.2)(64,13.5)(64,13.85)(66,12.85)(66,13.05)(66,13.35)(68,13.1)(68,13.6)(72,14.2)(74,13.4)(74,13.8)(74,14.3)(78,13.0)(78,13.6)(78,14.0)(82,13.3)(82,13.9)(82,14.3)(86,12.9)(86,13.5)(86,14.1)(90,13.2)(90,13.7)(94,13.0)(94,13.45)(94,14.0)(94,14.5)(98,13.3)(98,13.8)(98,14.2)(103,13.1)(103,13.6)(103,14.55)(107,13.4)(107,14.1)(112,12.9)(112,13.2)(112,13.5)(112,13.9)(114,13.0)(114,13.35)(118,13.15)(118,13.6)(118,14.0)(122,12.95)(122,13.25)(122,13.55)(126,13.4)(126,13.8)(131,12.2)(131,12.4)(131,12.6)(131,12.8)(131,13.0)(131,13.2)(131,13.35)(131,13.5)(131,13.65)(131,13.8)(131,14.0)(133,12.5)(133,13.1)(133,13.7)(147,12.5)(147,12.8)(147,13.0)(147,13.9)
(44,16.9)(44,17.3)(44,17.9)(44,18.3)(46,16.3)(46,16.5)(46,16.8)(46,17.6)(46,18.0)(48,16.6)(48,17.0)(48,17.4)(48,17.8)(50,17.1)(50,17.5)(50,18.2)(52,16.4)(52,16.7)(52,17.2)(52,18.1)(56,17.8)(62,16.9)(62,17.35)(64,16.5)(64,16.8)(64,17.0)(66,16.7)(66,17.6)(66,17.9)(70,16.1)(70,16.8)(70,17.4)(78,16.85)(78,17.1)(78,17.9)(80,16.4)(80,17.2)(83,15.35)(83,15.5)(83,15.9)(83,16.3)(83,16.7)(83,17.0)(83,17.5)(83,18.1)(88,17.3)(88,18.0)(95,16.6)(95,17.0)(95,17.3)(95,18.2)(99,16.9)(99,17.4)(99,17.9)(104,16.6)(104,17.1)(104,17.7)(104,18.2)(108,17.0)(113,16.3)(113,17.6)(113,18.5)(110,19.2)(110,19.3)(127,16.3)(127,16.8)(127,17.3)(135,17.8)(135,18.2)(140,17.5)(140,17.9)(146,16.7)(146,17.2)(146,17.7)(146,18.0)
(185,14.85)(185,14.95)(185,15.05)(185,15.15)(192,13.85)(192,13.95)(194,14.0)(203,11.9)(203,12.0)(206,11.6)(206,11.75)(209,11.3)(209,11.5)(209,13.6)(212,12.0)(212,13.0)(215,11.6)(230,12.6)(241,14.5)(241,14.7)(241,15.0)(241,15.2)(241,15.45)(241,15.6)(241,15.75)(241,16.6)(241,16.8)(241,17.0)(241,17.2)(243,14.9)(243,15.3)(243,16.1)(245,11.9)(280,13.0)(289,14.0)(300,14.5)(314,12.05)(327,15.2)
(318,13.55)(318,18.27)(343,11.18)(343,13.05)(343,13.3)(343,13.6)(343,13.95)(346,13.2)(362,13.05)(349,12.5)
(407,11.07)(407,11.35)(407,11.73)(418,11.95)(438,11.35)(449,11.48)(455,11.07)(461,11.98)(463,12.47)(404,14.15)(410,14.53)(413,13.35)(422,13.19)(424,13.79)(422,14.64)(422,14.95)(461,13.3)(461,13.65)(458,13.05)
(478,10.99)(478,11.29)(478,11.57)(478,11.9)(475,12.06)(487,11.48)(487,11.81)(492,11.86)(482,11.9)(506,11.95)(506,12.18)(478,13.13)(478,13.65)(475,14.07)(475,14.64)(475,14.84)(481,13.82)(481,14.34)(487,13.57)(487,14.45)(492,13.85)(487,14.84)(482,13.38)(520,14.84)(509,15.16)(523,11.95)(523,12.7)(538,11.6)(548,12.97)(579,11.48)(593,13.9)
(407,16.43)(407,16.84)(402,16.87)(402,17.45)(402,17.75)(407,17.39)(407,17.88)(444,16.4)(444,16.73)(444,17.0)(444,17.28)(450,16.29)(450,16.62)(450,17.2)(450,17.47)(450,17.97)(444,18.21)(444,18.49)(455,17.75)(455,18.05)(461,17.86)(461,17.95)(455,18.46)(461,18.6)(455,18.63)
(593,18.76)(593,19.18)(593,21.79)(616,13.65)(593,13.8)
};
\end{axis}
\end{tikzpicture}
\end{document}
